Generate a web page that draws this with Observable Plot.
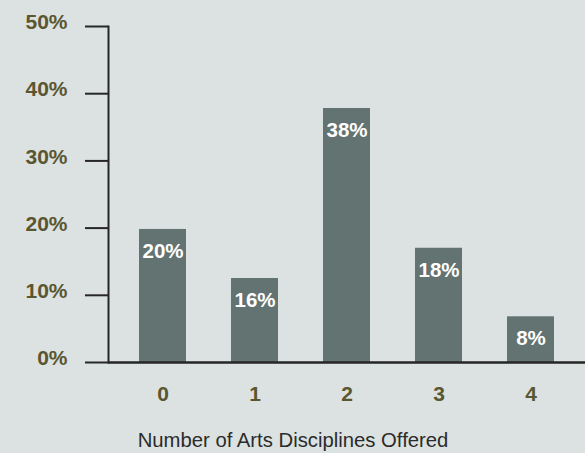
<!DOCTYPE html>
<html>
<head>
<meta charset="utf-8">
<script src="https://cdn.jsdelivr.net/npm/d3@7"></script>
<script src="https://cdn.jsdelivr.net/npm/@observablehq/plot@0.6"></script>
<style>
  html, body { margin: 0; padding: 0; background: #dce2e1; }
  #chart svg { display: block; }
</style>
</head>
<body>
<div id="chart"></div>
<script>
const categories = ["0", "1", "2", "3", "4"];
const barHeights = [19.8, 12.5, 37.8, 17.0, 6.8];
const barLabels = ["20%", "16%", "38%", "18%", "8%"];
const yTicks = [0, 10, 20, 30, 40, 50];
const axisTitle = "Number of Arts Disciplines Offered";

const data = categories.map((c, i) => ({cat: c, h: barHeights[i], label: barLabels[i]}));

const font = "'Liberation Sans', Arial, Helvetica, sans-serif";
const olive = "#5a5631";

const chart = Plot.plot({
  width: 585,
  height: 453,
  marginLeft: 108,
  marginRight: 0,
  marginTop: 26,
  marginBottom: 91,
  style: {background: "#dce2e1", fontFamily: font, overflow: "visible"},
  x: {domain: categories, paddingInner: 0.484, paddingOuter: 0.312, axis: null},
  y: {domain: [0, 50], axis: null},
  marks: [
    Plot.barY(data, {x: "cat", y: "h", fill: "#637372"}),
    Plot.text(data, {x: "cat", y: "h", text: "label", dy: 22, lineAnchor: "middle", fill: "white", fontWeight: "bold", fontSize: 20.5}),
    Plot.axisY({ticks: yTicks, tickSize: 23, stroke: "#262626", strokeWidth: 2, tickFormat: () => "", label: null}),
    Plot.axisY({ticks: yTicks, tickSize: 0, tickPadding: 41, tickFormat: d => d + "%", fill: olive, fontWeight: "bold", fontSize: 21, dy: -4, label: null}),
    Plot.axisX({tickSize: 0, tickPadding: 24, fill: olive, fontWeight: "bold", fontSize: 21, label: null}),
    Plot.frame({anchor: "left", stroke: "#262626", strokeWidth: 2}),
    Plot.ruleY([0], {stroke: "#262626", strokeWidth: 2.5}),
    Plot.text([axisTitle], {frameAnchor: "bottom", dx: -54, dy: 78, lineAnchor: "middle", fill: "#2b2b2b", fontSize: 20.3, text: d => d})
  ]
});
document.getElementById("chart").appendChild(chart);
</script>
</body>
</html>
